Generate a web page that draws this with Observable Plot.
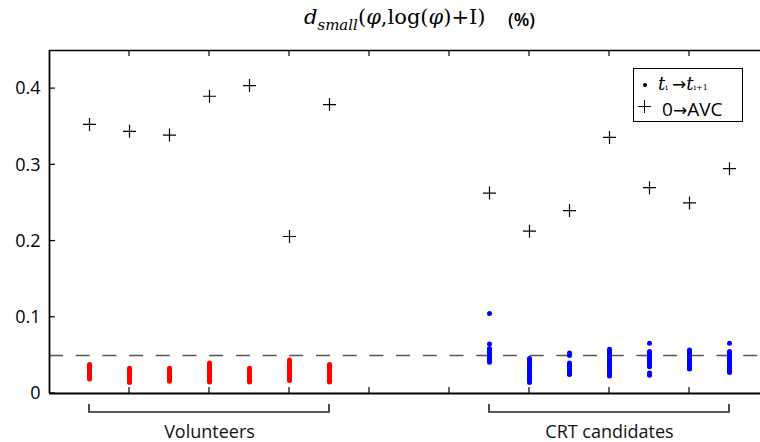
<!DOCTYPE html>
<html>
<head>
<meta charset="utf-8">
<script src="https://cdn.jsdelivr.net/npm/d3@7"></script>
<script src="https://cdn.jsdelivr.net/npm/@observablehq/plot@0.6"></script>
<style>
  html, body { margin: 0; padding: 0; background: #fff; }
  #wrap { position: relative; width: 760px; height: 442px; overflow: hidden; }
  .title { position: absolute; top: 4px; left: 304px; font-family: "DejaVu Serif", serif; font-size: 21px; line-height: 26px; white-space: nowrap; color: #000; }
  .title sub { font-size: 15px; font-style: italic; vertical-align: -6px; line-height: 0; }
  .pct { position: absolute; top: 6px; left: 508px; font-family: "Open Sans", sans-serif; font-weight: 600; font-size: 18px; line-height: 26px; color: #000; }
  .legend { position: absolute; left: 633px; top: 68px; width: 108px; height: 52px; border: 1px solid #000; background: #fff; font-family: "Open Sans", sans-serif; color: #000; }
  .legend .row { position: absolute; left: 0; white-space: nowrap; line-height: 20px; height: 20px; }
  .legend .dot { position: absolute; width: 4px; height: 4px; border-radius: 50%; background: #000; }
  .ser { font-family: "DejaVu Serif", serif; font-style: italic; font-size: 18px; }
  .tiny { font-family: "DejaVu Serif", serif; font-size: 8px; }
</style>
</head>
<body>
<div id="wrap"></div>
<script>
// ---- data ----
const xVolunteers = [1, 2, 3, 4, 5, 6, 7];
const xCRT = [11, 12, 13, 14, 15, 16, 17];

// 0 -> AVC values (plus markers)
const avcVolunteers = [0.353, 0.344, 0.339, 0.390, 0.404, 0.206, 0.379];
const avcCRT = [0.263, 0.213, 0.240, 0.336, 0.270, 0.250, 0.295];

// t_i -> t_i+1 values (dots), one list per subject
const dotsVolunteers = [
  [0.038, 0.036, 0.034, 0.032, 0.030, 0.029, 0.027, 0.026, 0.024, 0.023, 0.021, 0.019],
  [0.033, 0.031, 0.029, 0.027, 0.026, 0.024, 0.022, 0.021, 0.019, 0.017, 0.016, 0.0145],
  [0.033, 0.031, 0.029, 0.028, 0.026, 0.024, 0.023, 0.021, 0.019, 0.018, 0.016],
  [0.040, 0.038, 0.036, 0.034, 0.033, 0.031, 0.029, 0.028, 0.026, 0.025, 0.023, 0.021, 0.020, 0.018, 0.017, 0.015],
  [0.033, 0.031, 0.029, 0.027, 0.025, 0.023, 0.022, 0.020, 0.018, 0.017, 0.015],
  [0.044, 0.042, 0.040, 0.038, 0.036, 0.034, 0.032, 0.030, 0.029, 0.027, 0.025, 0.023, 0.021, 0.019, 0.017],
  [0.038, 0.036, 0.034, 0.032, 0.030, 0.028, 0.026, 0.025, 0.023, 0.021, 0.019, 0.017, 0.015]
];
const dotsCRT = [
  [0.105, 0.065, 0.059, 0.057, 0.055, 0.053, 0.051, 0.049, 0.047, 0.045, 0.043, 0.041],
  [0.046, 0.044, 0.041, 0.039, 0.037, 0.035, 0.033, 0.031, 0.029, 0.027, 0.025, 0.023, 0.021, 0.019, 0.017, 0.0145],
  [0.053, 0.050, 0.040, 0.038, 0.036, 0.034, 0.032, 0.030, 0.028, 0.026, 0.025],
  [0.058, 0.056, 0.054, 0.052, 0.050, 0.048, 0.046, 0.044, 0.042, 0.040, 0.038, 0.036, 0.034, 0.032, 0.030, 0.028, 0.026, 0.024, 0.023],
  [0.066, 0.055, 0.053, 0.051, 0.049, 0.047, 0.045, 0.043, 0.041, 0.039, 0.037, 0.035, 0.027, 0.024],
  [0.057, 0.055, 0.053, 0.051, 0.049, 0.047, 0.045, 0.043, 0.041, 0.039, 0.037, 0.035, 0.033, 0.032],
  [0.066, 0.055, 0.053, 0.051, 0.049, 0.047, 0.045, 0.043, 0.041, 0.039, 0.037, 0.035, 0.033, 0.031, 0.029, 0.0275]
];

const groupNames = ["Volunteers", "CRT candidates"];
const groupFrom = [1, 11];
const groupTo = [7, 17];

const threshold = 0.05;
const yTicks = [0, 0.1, 0.2, 0.3, 0.4];
const yTickLabels = ["0", "0.1", "0.2", "0.3", "0.4"];
const xTicks = [2, 4, 6, 8, 10, 12, 14, 16];
const xDomain = [0, 17.775];
const yDomain = [0, 0.45];

// ---- build tables ----
const avcRows = [
  ...xVolunteers.map((x, i) => ({x, y: avcVolunteers[i]})),
  ...xCRT.map((x, i) => ({x, y: avcCRT[i]}))
];
const dotRows = [
  ...xVolunteers.flatMap((x, i) => dotsVolunteers[i].map(y => ({x, y, g: "V"}))),
  ...xCRT.flatMap((x, i) => dotsCRT[i].map(y => ({x, y, g: "C"})))
];
const groups = groupNames.map((name, i) => ({name, from: groupFrom[i], to: groupTo[i]}));

const plusSymbol = {
  draw(context, size) {
    const r = Math.sqrt(size / Math.PI);
    context.moveTo(-r, 0); context.lineTo(r, 0);
    context.moveTo(0, -r); context.lineTo(0, r);
  }
};

// inner ticks and brackets drawn from the scales
function innerTicks(index, scales) {
  const g = d3.create("svg:g").attr("stroke", "#000").attr("stroke-width", 1.2);
  const y0 = scales.y(yDomain[0]), y1 = scales.y(yDomain[1]), x0 = scales.x(xDomain[0]);
  for (const t of xTicks) {
    const px = scales.x(t);
    g.append("line").attr("x1", px).attr("x2", px).attr("y1", y0).attr("y2", y0 - 6);
    g.append("line").attr("x1", px).attr("x2", px).attr("y1", y1).attr("y2", y1 + 6);
  }
  for (const t of yTicks) {
    const py = scales.y(t);
    g.append("line").attr("x1", x0).attr("x2", x0 + 6).attr("y1", py).attr("y2", py);
  }
  return g.node();
}
function brackets(index, scales) {
  const g = d3.create("svg:g").attr("fill", "none").attr("stroke", "#222").attr("stroke-width", 1.6);
  const yb = scales.y(0);
  for (const d of groups) {
    const a = scales.x(d.from), b = scales.x(d.to);
    g.append("path").attr("d", `M${a},${yb + 11}V${yb + 19}H${b}V${yb + 11}`);
  }
  return g.node();
}

const chart = Plot.plot({
  width: 760,
  height: 442,
  marginLeft: 49,
  marginRight: 0,
  marginTop: 50,
  marginBottom: 49,
  style: {fontFamily: "'Open Sans', sans-serif", fontSize: "17px", color: "#000", background: "#fff", overflow: "visible"},
  x: {domain: xDomain, axis: null},
  y: {domain: yDomain},
  marks: [
    Plot.ruleY([threshold], {stroke: "#555", strokeWidth: 1.5, strokeDasharray: "14,12.7"}),
    Plot.dot(dotRows, {x: "x", y: "y", r: 2.5, fill: d => d.g === "V" ? "#ff0000" : "#0000ff", stroke: "none"}),
    Plot.dot(avcRows, {x: "x", y: "y", symbol: plusSymbol, r: 6.5, stroke: "#000", fill: "none", strokeWidth: 1.2}),
    Plot.ruleY([yDomain[0]], {stroke: "#000", strokeWidth: 2}),
    Plot.ruleY([yDomain[1]], {stroke: "#000", strokeWidth: 1.6}),
    Plot.ruleX([xDomain[0]], {stroke: "#000", strokeWidth: 1.8}),
    innerTicks,
    Plot.axisY(yTicks, {anchor: "left", tickSize: 0, tickPadding: 9, fontSize: 18, label: null, fill: "#000",
      tickFormat: d => yTickLabels[yTicks.indexOf(d)]}),
    brackets,
    Plot.text(groups, {x: d => (d.from + d.to) / 2, y: 0, dy: 39, text: "name", fontSize: 18, fill: "#111"})
  ]
});

const wrap = document.getElementById("wrap");
wrap.appendChild(chart);

// title
const title = document.createElement("div");
title.className = "title";
title.innerHTML = '<i>d</i><sub>small</sub>(<i>φ</i>,log(<i>φ</i>)+I)';
wrap.appendChild(title);
const pct = document.createElement("div");
pct.className = "pct";
pct.textContent = "(%)";
wrap.appendChild(pct);

// legend
const legend = document.createElement("div");
legend.className = "legend";
legend.innerHTML = `
  <div class="dot" style="left:9px;top:14px"></div>
  <div class="row" style="left:24px;top:5px"><span class="ser">t</span><span class="tiny">i</span> <span style="font-size:17px;font-family:'DejaVu Sans'">→</span><span class="ser">t</span><span class="tiny">i+1</span></div>
  <div style="position:absolute;left:4px;top:37px;width:13px;height:1.3px;background:#000"></div>
  <div style="position:absolute;left:10px;top:31px;width:1.3px;height:13px;background:#000"></div>
  <div class="row" style="left:28px;top:30px;font-size:19px">0<span style="font-family:'DejaVu Sans';font-size:17px">→</span>AVC</div>
`;
wrap.appendChild(legend);
</script>
</body>
</html>
